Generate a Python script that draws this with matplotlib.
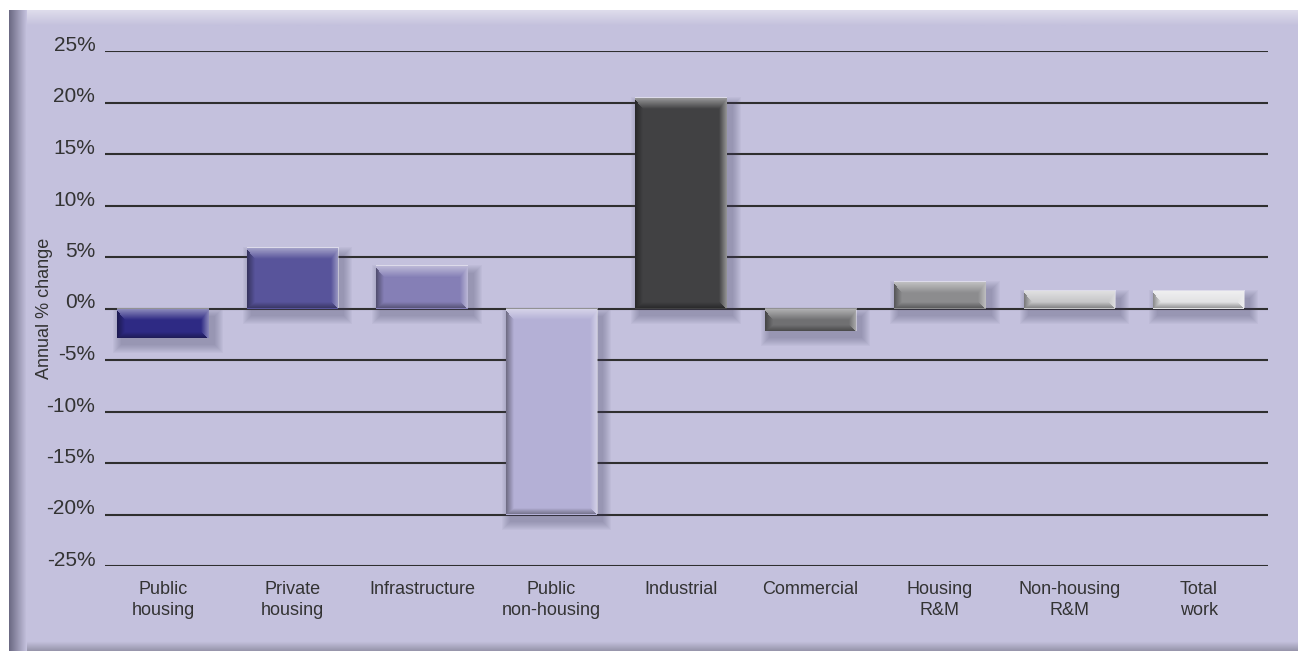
import numpy as np
import matplotlib.pyplot as plt
from matplotlib.colors import to_rgb
from matplotlib.patches import Rectangle

plt.rcParams['font.family'] = ['Liberation Sans', 'DejaVu Sans']

# Annual % change by sector
categories = ["Public\nhousing", "Private\nhousing", "Infrastructure",
              "Public\nnon-housing", "Industrial", "Commercial",
              "Housing\nR&M", "Non-housing\nR&M", "Total\nwork"]
changes = [-2.9, 5.9, 4.1, -20.0, 20.4, -2.2, 2.6, 1.7, 1.7]
bar_colors = ["#2E2A84", "#58549B", "#857FB6", "#B4B0D6", "#414143",
              "#707072", "#8C8C8E", "#C6C6C8", "#E2E2E4"]
y_ticks = list(range(-25, 30, 5))

W, H = 1298, 655
PANEL = "#C4C1DD"
TEXT = "#333333"

fig = plt.figure(figsize=(W / 100, H / 100), dpi=100)
fig.patch.set_facecolor("white")


def gradient(c0, c1, n, vertical=True):
    a, b = np.array(to_rgb(c0)), np.array(to_rgb(c1))
    t = np.linspace(0, 1, n)[:, None]
    g = a * (1 - t) + b * t
    return g[:, None, :] if vertical else g[None, :, :]


# backdrop panel with soft bevelled edges
bg = fig.add_axes([0, 0, 1, 1], zorder=0)
bg.add_patch(Rectangle((9, 10), W - 9, 641, color=PANEL, lw=0, zorder=0))
bg.imshow(gradient("#DEDCEC", PANEL, 16), extent=(9, W, 26, 10),
          aspect="auto", interpolation="bilinear", zorder=1)
bg.imshow(gradient("#9896AC", PANEL, 10)[::-1], extent=(9, W, 651, 641),
          aspect="auto", interpolation="bilinear", zorder=1)
bg.imshow(gradient("#6C6A84", PANEL, 18, vertical=False), extent=(9, 27, 651, 10),
          aspect="auto", interpolation="bilinear", zorder=2)
bg.set_xlim(0, W)
bg.set_ylim(H, 0)
bg.axis("off")

# plotting area
ax_l, ax_r, ax_t, ax_b = 105, 1268, 51, 566
ax = fig.add_axes([ax_l / W, (H - ax_b) / H, (ax_r - ax_l) / W, (ax_b - ax_t) / H], zorder=1)
ax.patch.set_alpha(0)
xlim = (-0.448, 8.533)
ylim = (-25, 25)
px_x = (xlim[1] - xlim[0]) / (ax_r - ax_l)
px_y = (ylim[1] - ylim[0]) / (ax_b - ax_t)

x = np.arange(len(categories))
bar_w = 0.703
bars = ax.bar(x, changes, width=bar_w, color=bar_colors, zorder=2, lw=0)


def bevel_overlay(w_px, h_px):
    yy = np.arange(h_px)[:, None] + 0.5
    xx = np.arange(w_px)[None, :] + 0.5
    light = np.clip(1 - yy / 12, 0, 1) * 0.5
    light = np.maximum(light, np.clip(1 - (w_px - xx) / 8, 0, 1) * 0.45)
    dark = np.clip(1 - xx / 8, 0, 1) * 0.4
    dark = np.maximum(dark, np.clip(1 - (h_px - yy) / 6, 0, 1) * 0.35)
    img = np.zeros((h_px, w_px, 4))
    is_light = light > dark
    img[..., :3] = np.where(is_light, 1.0, 0.0)[..., None]
    img[..., 3] = np.maximum(light, dark)
    return img


for rect in bars:
    x0, w = rect.get_x(), rect.get_width()
    y0, h = rect.get_y(), rect.get_height()
    lo, hi = min(y0, y0 + h), max(y0, y0 + h)
    # drop shadow, offset down and to the right
    for k in range(9):
        ax.add_patch(Rectangle((x0 + (4 - k) * px_x, lo - (7 + k) * px_y),
                               w + (2 + 2 * k) * px_x, (hi - lo) + 2 * k * px_y,
                               color="#4A4868", alpha=0.045, lw=0, zorder=1.5))
    w_px = int(round(w / px_x))
    h_px = max(int(round((hi - lo) / px_y)), 2)
    ax.imshow(bevel_overlay(w_px, h_px), extent=(x0, x0 + w, lo, hi),
              aspect="auto", interpolation="bilinear", zorder=3)

ax.set_xlim(*xlim)
ax.set_ylim(*ylim)
ax.set_axisbelow(True)
ax.grid(axis="y", color="#2F2F2F", lw=1.5)
ax.grid(axis="x", visible=False)
for s in ax.spines.values():
    s.set_visible(False)

ax.set_yticks(y_ticks, labels=[f"{t}%" for t in y_ticks])
ax.set_xticks(x, labels=categories)
ax.tick_params(axis="y", length=0, pad=7, labelsize=15, labelcolor=TEXT)
ax.tick_params(axis="x", length=0, pad=11, labelsize=13, labelcolor=TEXT)
for lab in ax.get_yticklabels():
    lab.set_va("baseline")
for lab in ax.get_xticklabels():
    lab.set_linespacing(1.25)

ax.set_ylabel("Annual % change", fontsize=13, color=TEXT)
ax.yaxis.set_label_coords(-(ax_l - 53) / (ax_r - ax_l), 0.5)

fig.savefig("out.png", dpi=100, facecolor="white")
